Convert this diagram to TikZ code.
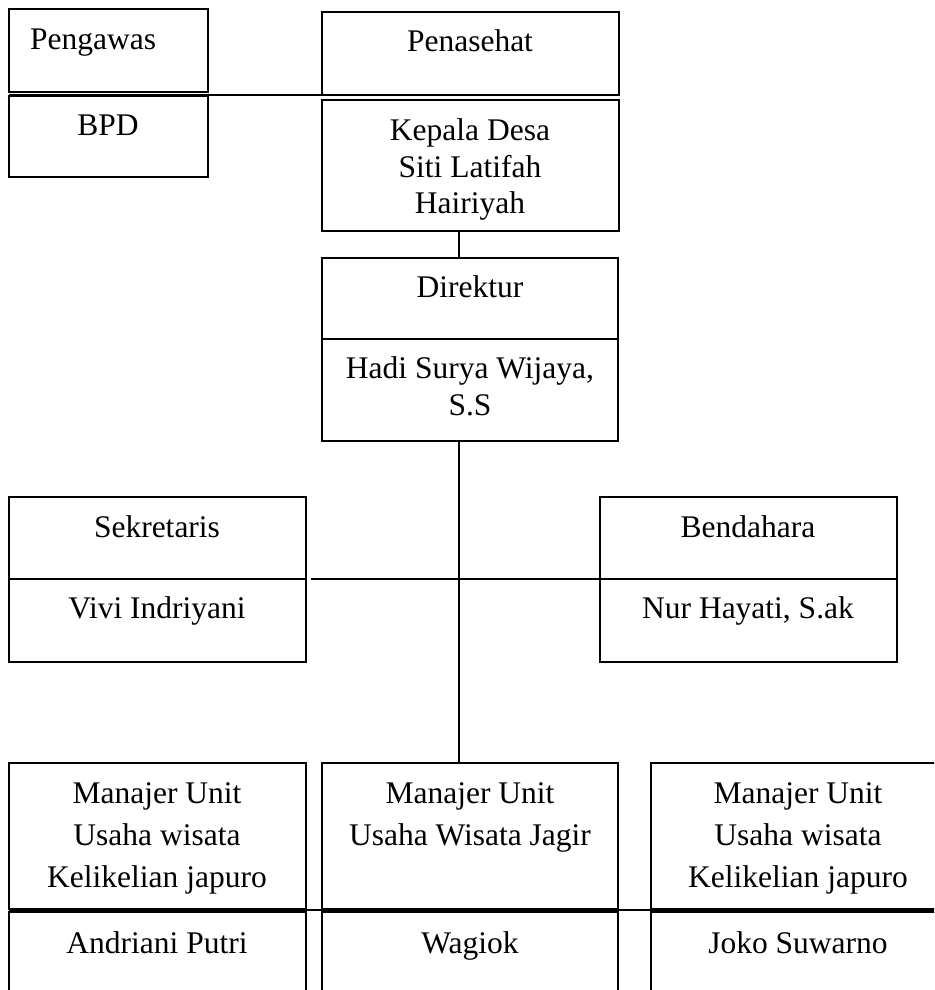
\documentclass[tikz,border=0pt]{standalone}
\usepackage{fontspec}
\setmainfont{Liberation Serif}
\newcommand{\orgbox}[5]{%
  \pgfmathsetmacro{\bw}{#4-#2}\pgfmathsetmacro{\bh}{#5-#3}%
  \pgfmathsetmacro{\bx}{(#2+#4)/2}\pgfmathsetmacro{\by}{(#3+#5)/2}%
  \node[box, minimum width=\bw pt, minimum height=\bh pt] (#1) at (\bx,\by) {};}
\begin{document}
\begin{tikzpicture}[x=1pt,y=-1pt,
  box/.style={draw, line width=1.7pt, inner sep=0pt, outer sep=0pt},
  conn/.style={line width=1.6pt},
  lbl/.style={font=\fontsize{31.5}{36}\selectfont, inner sep=0pt, anchor=base}]
\useasboundingbox (0,0) rectangle (934,990);
\clip (0,0) rectangle (934,990);
\fill[white] (0,0) rectangle (934,990);

% boxes
\orgbox{pengawas}{9}{9}{208}{92}
\orgbox{bpd}{9}{96}{208}{177}
\orgbox{penasehat}{322}{12}{619}{95}
\orgbox{kepala}{322}{100}{619}{231}
\orgbox{direktur}{322}{258}{618}{441}
\orgbox{sekretaris}{9}{497}{306}{662}
\orgbox{bendahara}{600}{497}{897}{662}
\orgbox{manA}{9}{763}{306}{909}
\orgbox{manB}{322}{763}{618}{909}
\orgbox{manC}{651}{763}{945}{909}
\orgbox{nameA}{9}{912}{306}{1000}
\orgbox{nameB}{322}{912}{618}{1000}
\orgbox{nameC}{651}{912}{945}{1000}

% dividers
\coordinate (dirdiv) at (0,339);
\coordinate (secdiv) at (0,579);
\draw[conn] (direktur.west |- dirdiv) -- (direktur.east |- dirdiv);
\draw[conn] (sekretaris.west |- secdiv) -- (sekretaris.east |- secdiv);
\draw[conn] (bendahara.west |- secdiv) -- (bendahara.east |- secdiv);

% connectors
\coordinate (vx) at (459,0);
\coordinate (hstart) at (311,0);
\coordinate (rowline) at (934,910);
\draw[conn] (pengawas.west |- penasehat.south) -- (penasehat.south west);
\draw[conn] (kepala.south -| vx) -- (direktur.north -| vx);
\draw[conn] (direktur.south -| vx) -- (manB.north -| vx);
\draw[conn] (hstart |- secdiv) -- (bendahara.west |- secdiv);
\draw[conn] (manA.west |- rowline) -- (rowline);

% labels
\node[lbl, anchor=base west] (tPengawas) at (30,50) {Pengawas};
\node[lbl] (tBPD) at (108,135) {BPD};
\node[lbl] (tPenasehat) at (470,52) {Penasehat};
\node[lbl] (tKepala1) at (470,140) {Kepala Desa};
\node[lbl] (tKepala2) at (470,177) {Siti Latifah};
\node[lbl] (tKepala3) at (470,213) {Hairiyah};
\node[lbl] (tDirektur) at (470,297) {Direktur};
\node[lbl] (tHadi1) at (470,378) {Hadi Surya Wijaya,};
\node[lbl] (tHadi2) at (470,415) {S.S};
\node[lbl] (tSek) at (157,537) {Sekretaris};
\node[lbl] (tVivi) at (157,618) {Vivi Indriyani};
\node[lbl] (tBen) at (748,537) {Bendahara};
\node[lbl] (tNur) at (748,618) {Nur Hayati, S.ak};
\node[lbl] (tA1) at (157,803) {Manajer Unit};
\node[lbl] (tA2) at (157,845) {Usaha wisata};
\node[lbl] (tA3) at (157,887) {Kelikelian japuro};
\node[lbl] (tA4) at (157,953) {Andriani Putri};
\node[lbl] (tB1) at (470,803) {Manajer Unit};
\node[lbl] (tB2) at (470,845) {Usaha Wisata Jagir};
\node[lbl] (tB4) at (470,953) {Wagiok};
\node[lbl] (tC1) at (798,803) {Manajer Unit};
\node[lbl] (tC2) at (798,845) {Usaha wisata};
\node[lbl] (tC3) at (798,887) {Kelikelian japuro};
\node[lbl] (tC4) at (798,953) {Joko Suwarno};
\end{tikzpicture}
\end{document}
